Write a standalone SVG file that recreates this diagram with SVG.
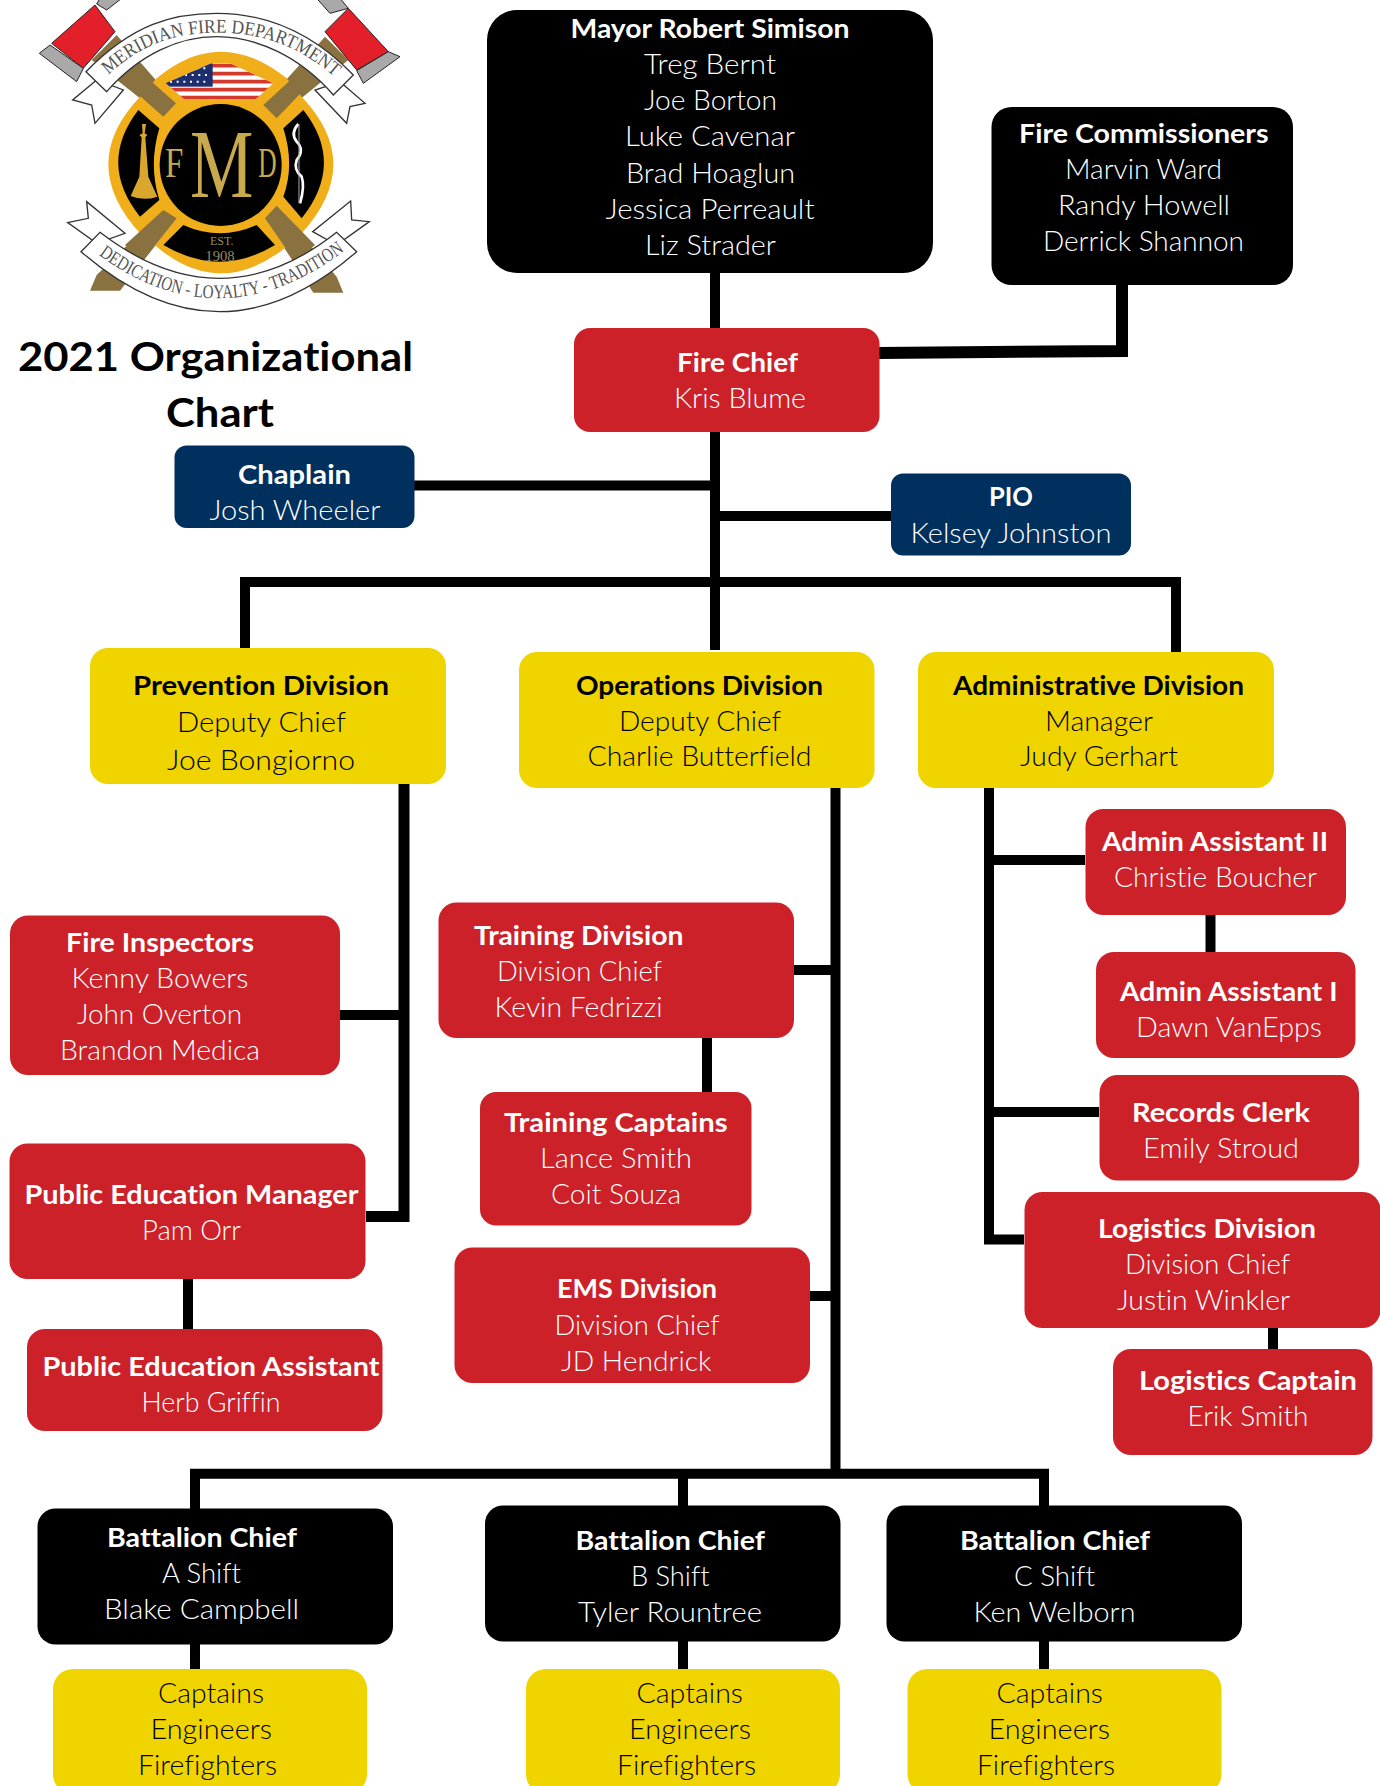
<svg xmlns="http://www.w3.org/2000/svg" width="1380" height="1786" viewBox="0 0 1380 1786">
<style>
text{font-family:"Lato","Noto Sans","Liberation Sans",sans-serif;font-size:27.5px;font-weight:300;font-variant-ligatures:none}
.b{font-weight:700}
.w{fill:#fff}
.k{fill:#000}
.red{fill:#cd212a}
.yel{fill:#efd400}
.navy{fill:#00305e}
.blk{fill:#000}
.c{fill:none;stroke:#000;stroke-width:10}
.rib{fill:#fff;stroke:#333;stroke-width:4}
.brown{fill:#8a7240}
.axe{fill:#e3202a;stroke:#222;stroke-width:3}
.gray{fill:#a9a9a9;stroke:#222;stroke-width:3}
.lg{font-family:"Liberation Serif",serif;font-weight:400;fill:#555}
.gold{font-family:"Liberation Serif",serif;font-weight:400;fill:#c9a94e}
</style>
<defs><clipPath id="flagclip"><path d="M497 250L635 190H690L820 250L765 300H555Z"/></clipPath></defs>
<rect width="1380" height="1786" fill="#fff"/>

<g id="logo" transform="scale(.33333)">
<path class="brown" d="M350 105L528 310L490 350L275 180Z"/>
<path class="brown" d="M975 110L790 315L830 355L1045 180Z"/>
<path class="brown" d="M490 630L530 655L360 872H270L290 825Z"/>
<path class="brown" d="M830 617L795 655L940 878H1030L1010 830Z"/>
<path class="gray" d="M300 -5H365L320 30L290 12Z"/>
<path class="axe" d="M285 15L345 95L250 205L155 130Z"/>
<path class="gray" d="M118 160L150 135L250 205L230 245Z"/>
<path class="gray" d="M950 -5H1020L1045 25L990 40Z"/>
<path class="axe" d="M1045 25L1165 155L1070 210L975 95Z"/>
<path class="gray" d="M1070 212L1165 155L1200 170L1090 250Z"/>
<path fill="#f0ae1a" d="M470 235Q660 75 860 235L905 290Q1095 490 905 700L860 740Q660 900 470 740L420 700Q230 490 420 290Z"/>
<path class="brown" d="M415 210L528 310L490 350L360 235Z"/>
<path class="brown" d="M910 205L790 315L830 355L945 235Z"/>
<path class="brown" d="M490 630L530 655L430 780L375 735Z"/>
<path class="brown" d="M830 617L795 655L885 785L945 735Z"/>
<path d="M415 330L478 385Q445 495 478 600L420 650Q292 490 415 330Z"/>
<path d="M910 330L850 385Q885 495 850 590L905 655Q1036 490 910 330Z"/>
<path d="M550 675Q660 725 770 675L825 735Q660 835 490 735Z"/>
<circle cx="662" cy="495" r="183"/>
<g clip-path="url(#flagclip)">
<rect x="490" y="185" width="340" height="120" fill="#fff"/>
<path d="M490 197H830M490 221H830M490 245H830M490 269H830M490 293H830" stroke="#d33a2c" stroke-width="11" fill="none"/>
<rect x="490" y="185" width="148" height="75" fill="#1d2f6f"/>
<path d="M510 245H630M535 225H630M570 205H630" stroke="#fff" stroke-width="6" stroke-dasharray="6 14" fill="none"/>
</g>
<path fill="#d9a62e" d="M426 372H438L434 400L442 405L436 412L445 530L472 590Q430 604 392 588L418 530L425 412L418 405L428 400Z"/>
<path fill="none" stroke="#fff" stroke-width="8" d="M895 372Q870 400 890 425Q915 450 890 480Q880 510 905 530Q915 560 900 610"/>
<path fill="none" stroke="#aaa" stroke-width="3" d="M897 372V610"/>
<text class="gold" x="495" y="530" style="font-size:129px" textLength="55" lengthAdjust="spacingAndGlyphs">F</text>
<text class="gold" x="570" y="590" style="font-size:295px" textLength="190" lengthAdjust="spacingAndGlyphs">M</text>
<text class="gold" x="775" y="530" style="font-size:129px" textLength="55" lengthAdjust="spacingAndGlyphs">D</text>
<text class="lg" x="630" y="735" style="font-size:36px;fill:#9a8a60">EST.</text>
<text class="lg" x="616" y="784" style="font-size:44px;fill:#9a8a60">1908</text>
<path class="rib" d="M370 270L285 370L275 315L218 300L290 240Z"/>
<path class="rib" d="M945 270L1040 370L1050 320L1095 310L1020 245Z"/>
<path class="rib" d="M258 215C400 70 520 40 650 40C790 40 930 90 1060 225L1000 285C900 170 770 110 650 110C540 110 420 160 320 275Z"/>
<path id="toparc" fill="none" d="M325 225C430 125 540 98 655 98C770 98 900 130 1030 255"/>
<text class="lg" style="font-size:58px"><textPath href="#toparc" textLength="745" lengthAdjust="spacingAndGlyphs">MERIDIAN FIRE DEPARTMENT</textPath></text>
<path class="rib" d="M260 605L265 655L203 668L290 730L375 700Z"/>
<path class="rib" d="M1052 603L1055 660L1108 665L1010 735L938 695Z"/>
<path class="rib" d="M243 755L300 697Q660 973 1010 697L1070 755Q660 1115 243 755Z"/>
<path id="botarc" fill="none" d="M296 765Q660 1030 1030 755"/>
<text class="lg" style="font-size:58px"><textPath href="#botarc" textLength="800" lengthAdjust="spacingAndGlyphs">DEDICATION - LOYALTY - TRADITION</textPath></text>
</g>

<g id="title">
<text class="b k" x="18" y="370.500" style="font-size:40px" textLength="395" lengthAdjust="spacingAndGlyphs">2021 Organizational</text>
<text class="b k" x="166" y="427" style="font-size:40px" textLength="108" lengthAdjust="spacingAndGlyphs">Chart</text>
</g>

<g id="connectors">
<path class="c" d="M715 273V650"/>
<path class="c" style="stroke-width:12" d="M879 353L1122 351V285"/>
<path class="c" d="M414 485.500H711"/>
<path class="c" d="M720 516H891"/>
<path class="c" d="M245 648V582H1176V652"/>
<path class="c" style="stroke-width:11" d="M404 784V1216.500H366"/>
<path class="c" d="M340 1015H400"/>
<path class="c" d="M188 1279V1329"/>
<path class="c" d="M707 1038V1092"/>
<path class="c" d="M835.500 788V1474"/>
<path class="c" d="M794 970H831M810 1296H831"/>
<path class="c" d="M989 788V1239.500H1024"/>
<path class="c" d="M993 860H1085M993 1112H1099"/>
<path class="c" d="M1210.500 915V952"/>
<path class="c" d="M1273 1328V1350"/>
<path class="c" d="M195 1509V1473.700H1044V1506"/>
<path class="c" d="M683 1478V1506M195 1644V1669M683 1641V1669M1044 1641V1669"/>
</g>

<g id="mayor"><rect class="blk" x="487" y="10" width="446" height="263" rx="30"/>
<text class="w b" x="570.500" y="37.500" textLength="279" lengthAdjust="spacingAndGlyphs">Mayor Robert Simison</text>
<text class="w" x="644" y="73.500" textLength="132" lengthAdjust="spacingAndGlyphs">Treg Bernt</text>
<text class="w" x="644" y="110" textLength="133" lengthAdjust="spacingAndGlyphs">Joe Borton</text>
<text class="w" x="625" y="146" textLength="170" lengthAdjust="spacingAndGlyphs">Luke Cavenar</text>
<text class="w" x="626" y="182.500" textLength="169" lengthAdjust="spacingAndGlyphs">Brad Hoaglun</text>
<text class="w" x="605.500" y="218.500" textLength="209" lengthAdjust="spacingAndGlyphs">Jessica Perreault</text>
<text class="w" x="645" y="254.500" textLength="131" lengthAdjust="spacingAndGlyphs">Liz Strader</text></g>

<g id="fire-commissioners"><rect class="blk" x="991.500" y="107" width="301.500" height="178" rx="20"/>
<text class="w b" x="1019" y="142.500" textLength="249.500" lengthAdjust="spacingAndGlyphs">Fire Commissioners</text>
<text class="w" x="1065" y="178.500" textLength="157" lengthAdjust="spacingAndGlyphs">Marvin Ward</text>
<text class="w" x="1058" y="214.500" textLength="172" lengthAdjust="spacingAndGlyphs">Randy Howell</text>
<text class="w" x="1043" y="250.500" textLength="201" lengthAdjust="spacingAndGlyphs">Derrick Shannon</text></g>

<g id="fire-chief"><rect class="red" x="574" y="328" width="305.500" height="104" rx="16"/>
<text class="w b" x="677" y="371.500" textLength="121" lengthAdjust="spacingAndGlyphs">Fire Chief</text>
<text class="w" x="674" y="408" textLength="132" lengthAdjust="spacingAndGlyphs">Kris Blume</text></g>

<g id="chaplain"><rect class="navy" x="174.500" y="445.500" width="240" height="82.500" rx="12"/>
<text class="w b" x="238" y="483.500" textLength="113" lengthAdjust="spacingAndGlyphs">Chaplain</text>
<text class="w" x="209.500" y="520" textLength="171" lengthAdjust="spacingAndGlyphs">Josh Wheeler</text></g>

<g id="pio"><rect class="navy" x="891" y="473.500" width="240" height="82" rx="12"/>
<text class="w b" x="989" y="506" textLength="44" lengthAdjust="spacingAndGlyphs">PIO</text>
<text class="w" x="910.500" y="542.500" textLength="201" lengthAdjust="spacingAndGlyphs">Kelsey Johnston</text></g>

<g id="prevention"><rect class="yel" x="90" y="648" width="356" height="136" rx="18"/>
<text class="k b" x="133" y="694.500" textLength="256" lengthAdjust="spacingAndGlyphs">Prevention Division</text>
<text class="k" x="177" y="731.500" textLength="169" lengthAdjust="spacingAndGlyphs">Deputy Chief</text>
<text class="k" x="167" y="770" textLength="188" lengthAdjust="spacingAndGlyphs">Joe Bongiorno</text></g>

<g id="operations"><rect class="yel" x="519" y="652" width="355.500" height="136" rx="18"/>
<text class="k b" x="576" y="695" textLength="247" lengthAdjust="spacingAndGlyphs">Operations Division</text>
<text class="k" x="619" y="730.500" textLength="162" lengthAdjust="spacingAndGlyphs">Deputy Chief</text>
<text class="k" x="587.500" y="766" textLength="224" lengthAdjust="spacingAndGlyphs">Charlie Butterfield</text></g>

<g id="administrative"><rect class="yel" x="918" y="652" width="356" height="136" rx="18"/>
<text class="k b" x="953" y="695" textLength="291" lengthAdjust="spacingAndGlyphs">Administrative Division</text>
<text class="k" x="1045" y="731" textLength="108" lengthAdjust="spacingAndGlyphs">Manager</text>
<text class="k" x="1020" y="766" textLength="158" lengthAdjust="spacingAndGlyphs">Judy Gerhart</text></g>

<g id="fire-inspectors"><rect class="red" x="10" y="915.500" width="330" height="159.500" rx="18"/>
<text class="w b" x="66" y="952" textLength="188" lengthAdjust="spacingAndGlyphs">Fire Inspectors</text>
<text class="w" x="71.500" y="988" textLength="177" lengthAdjust="spacingAndGlyphs">Kenny Bowers</text>
<text class="w" x="77" y="1024" textLength="165" lengthAdjust="spacingAndGlyphs">John Overton</text>
<text class="w" x="60" y="1060" textLength="200" lengthAdjust="spacingAndGlyphs">Brandon Medica</text></g>

<g id="public-education-manager"><rect class="red" x="9.500" y="1143.500" width="356" height="135.500" rx="18"/>
<text class="w b" x="24.500" y="1204" textLength="334" lengthAdjust="spacingAndGlyphs">Public Education Manager</text>
<text class="w" x="142" y="1239.500" textLength="99" lengthAdjust="spacingAndGlyphs">Pam Orr</text></g>

<g id="public-education-assistant"><rect class="red" x="27" y="1329" width="355.500" height="102" rx="18"/>
<text class="w b" x="42.500" y="1375.500" textLength="337" lengthAdjust="spacingAndGlyphs">Public Education Assistant</text>
<text class="w" x="141.500" y="1412" textLength="139" lengthAdjust="spacingAndGlyphs">Herb Griffin</text></g>

<g id="training-division"><rect class="red" x="438.500" y="902.500" width="355.500" height="135.500" rx="18"/>
<text class="w b" x="474" y="944.500" textLength="209.500" lengthAdjust="spacingAndGlyphs">Training Division</text>
<text class="w" x="497" y="980.500" textLength="165" lengthAdjust="spacingAndGlyphs">Division Chief</text>
<text class="w" x="494.500" y="1016.500" textLength="168" lengthAdjust="spacingAndGlyphs">Kevin Fedrizzi</text></g>

<g id="training-captains"><rect class="red" x="480" y="1092" width="271.500" height="133.500" rx="16"/>
<text class="w b" x="504" y="1132" textLength="223.500" lengthAdjust="spacingAndGlyphs">Training Captains</text>
<text class="w" x="540" y="1168" textLength="152" lengthAdjust="spacingAndGlyphs">Lance Smith</text>
<text class="w" x="551" y="1204" textLength="130" lengthAdjust="spacingAndGlyphs">Coit Souza</text></g>

<g id="ems-division"><rect class="red" x="454.500" y="1247.500" width="355.500" height="135.500" rx="18"/>
<text class="w b" x="557" y="1298" textLength="160" lengthAdjust="spacingAndGlyphs">EMS Division</text>
<text class="w" x="554.500" y="1335" textLength="165" lengthAdjust="spacingAndGlyphs">Division Chief</text>
<text class="w" x="561" y="1370.500" textLength="150.500" lengthAdjust="spacingAndGlyphs">JD Hendrick</text></g>

<g id="admin-assistant-2"><rect class="red" x="1085.500" y="809" width="260.500" height="106" rx="18"/>
<text class="w b" x="1102" y="850.500" textLength="226" lengthAdjust="spacingAndGlyphs">Admin Assistant II</text>
<text class="w" x="1114" y="887" textLength="203" lengthAdjust="spacingAndGlyphs">Christie Boucher</text></g>

<g id="admin-assistant-1"><rect class="red" x="1096" y="952" width="259.500" height="106" rx="18"/>
<text class="w b" x="1120" y="1000.500" textLength="217.500" lengthAdjust="spacingAndGlyphs">Admin Assistant I</text>
<text class="w" x="1136" y="1037" textLength="186" lengthAdjust="spacingAndGlyphs">Dawn VanEpps</text></g>

<g id="records-clerk"><rect class="red" x="1099.500" y="1075" width="259.500" height="105.500" rx="18"/>
<text class="w b" x="1132" y="1122" textLength="178" lengthAdjust="spacingAndGlyphs">Records Clerk</text>
<text class="w" x="1143" y="1158" textLength="156" lengthAdjust="spacingAndGlyphs">Emily Stroud</text></g>

<g id="logistics-division"><rect class="red" x="1024.500" y="1192" width="356" height="136" rx="18"/>
<text class="w b" x="1098" y="1238" textLength="218" lengthAdjust="spacingAndGlyphs">Logistics Division</text>
<text class="w" x="1125" y="1274" textLength="165" lengthAdjust="spacingAndGlyphs">Division Chief</text>
<text class="w" x="1117" y="1310" textLength="173" lengthAdjust="spacingAndGlyphs">Justin Winkler</text></g>

<g id="logistics-captain"><rect class="red" x="1113" y="1349" width="259.500" height="106" rx="18"/>
<text class="w b" x="1139" y="1390" textLength="218" lengthAdjust="spacingAndGlyphs">Logistics Captain</text>
<text class="w" x="1187.500" y="1426" textLength="121" lengthAdjust="spacingAndGlyphs">Erik Smith</text></g>

<g id="battalion-a"><rect class="blk" x="37.500" y="1508.500" width="355.500" height="136" rx="18"/>
<text class="w b" x="107" y="1546.500" textLength="190" lengthAdjust="spacingAndGlyphs">Battalion Chief</text>
<text class="w" x="162" y="1582.500" textLength="79" lengthAdjust="spacingAndGlyphs">A Shift</text>
<text class="w" x="104" y="1618.500" textLength="195" lengthAdjust="spacingAndGlyphs">Blake Campbell</text></g>

<g id="battalion-b"><rect class="blk" x="485" y="1505.500" width="355.500" height="136" rx="18"/>
<text class="w b" x="575.500" y="1549.500" textLength="189.500" lengthAdjust="spacingAndGlyphs">Battalion Chief</text>
<text class="w" x="631" y="1585.500" textLength="78.500" lengthAdjust="spacingAndGlyphs">B Shift</text>
<text class="w" x="578" y="1621.500" textLength="184" lengthAdjust="spacingAndGlyphs">Tyler Rountree</text></g>

<g id="battalion-c"><rect class="blk" x="886.500" y="1505.500" width="355.500" height="136" rx="18"/>
<text class="w b" x="960" y="1549.500" textLength="190" lengthAdjust="spacingAndGlyphs">Battalion Chief</text>
<text class="w" x="1014" y="1585.500" textLength="81" lengthAdjust="spacingAndGlyphs">C Shift</text>
<text class="w" x="973.500" y="1621.500" textLength="162" lengthAdjust="spacingAndGlyphs">Ken Welborn</text></g>

<g id="crew-a"><rect class="yel" x="53" y="1669" width="314" height="125" rx="20"/>
<text class="k" x="158" y="1702.500" textLength="106" lengthAdjust="spacingAndGlyphs">Captains</text>
<text class="k" x="150.500" y="1738.500" textLength="121.500" lengthAdjust="spacingAndGlyphs">Engineers</text>
<text class="k" x="138" y="1774.500" textLength="139" lengthAdjust="spacingAndGlyphs">Firefighters</text></g>

<g id="crew-b"><rect class="yel" x="526" y="1669" width="314" height="125" rx="20"/>
<text class="k" x="636.500" y="1702.500" textLength="106.500" lengthAdjust="spacingAndGlyphs">Captains</text>
<text class="k" x="629" y="1738.500" textLength="122" lengthAdjust="spacingAndGlyphs">Engineers</text>
<text class="k" x="617" y="1774.500" textLength="139" lengthAdjust="spacingAndGlyphs">Firefighters</text></g>

<g id="crew-c"><rect class="yel" x="907.500" y="1669" width="314" height="125" rx="20"/>
<text class="k" x="996.500" y="1702.500" textLength="106.500" lengthAdjust="spacingAndGlyphs">Captains</text>
<text class="k" x="988.500" y="1738.500" textLength="121.500" lengthAdjust="spacingAndGlyphs">Engineers</text>
<text class="k" x="977" y="1774.500" textLength="138" lengthAdjust="spacingAndGlyphs">Firefighters</text></g>
</svg>
